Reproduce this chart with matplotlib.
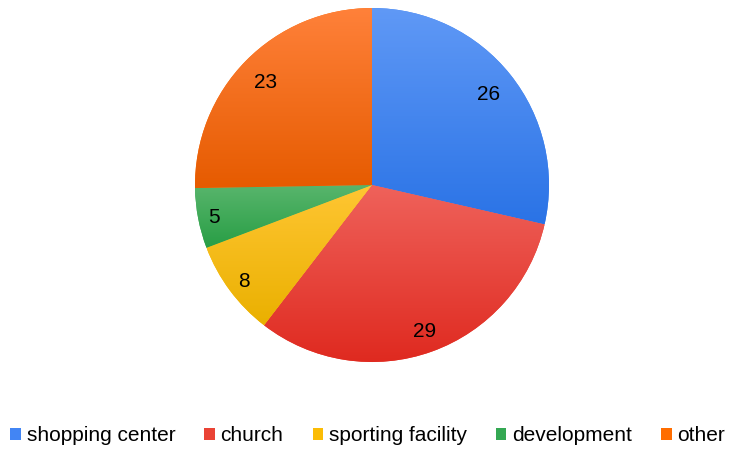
import matplotlib
matplotlib.use("Agg")
import matplotlib.pyplot as plt
import numpy as np
from matplotlib.colors import LinearSegmentedColormap
from matplotlib.patches import Patch

plt.rcParams['font.family'] = ['Liberation Sans', 'DejaVu Sans']

categories = ["shopping center", "church", "sporting facility", "development", "other"]
values = [26, 29, 8, 5, 23]
base_colors = ["#4285F4", "#EA4335", "#FBBC05", "#34A853", "#FF6D00"]
top_colors = ["#6099F6", "#EF625B", "#FFC633", "#58B56C", "#FF813A"]
bottom_colors = ["#2A73E6", "#DF291F", "#EAB000", "#289E45", "#E65B00"]
label_dist = [0.84, 0.87, 0.90, 0.91, 0.84]

fig = plt.figure(figsize=(7.4, 4.49), dpi=100)
ax = fig.add_axes([195 / 740, 87 / 449, 354 / 740, 354 / 449])

wedges, texts = ax.pie(
    values, colors=base_colors, startangle=90, counterclock=False,
    radius=1.0, wedgeprops=dict(linewidth=0))

for w, tc, bc, v, d in zip(wedges, top_colors, bottom_colors, values, label_dist):
    verts = w.get_path().vertices
    x0, x1 = verts[:, 0].min(), verts[:, 0].max()
    y0, y1 = verts[:, 1].min(), verts[:, 1].max()
    cmap = LinearSegmentedColormap.from_list("g", [bc, tc])
    grad = np.linspace(0, 1, 256).reshape(-1, 1)
    im = ax.imshow(grad, cmap=cmap, origin="lower", extent=(x0, x1, y0, y1),
                   aspect="auto", zorder=w.get_zorder() + 0.1, interpolation="bilinear")
    im.set_clip_path(w)
    ang = np.deg2rad((w.theta1 + w.theta2) / 2)
    ax.text(d * np.cos(ang), d * np.sin(ang) - 0.01, f"{v}", ha="center", va="center",
            fontsize=15, color="black", zorder=10)

ax.set_xlim(-1, 1)
ax.set_ylim(-1, 1)
ax.set_aspect("equal")
ax.axis("off")

handles = [Patch(facecolor=c, edgecolor="none") for c in base_colors]
fig.legend(handles, categories, loc="center", bbox_to_anchor=(0.497, 0.029), ncol=5,
           frameon=False, fontsize=15, handlelength=0.5, handleheight=0.5,
           handletextpad=0.28, columnspacing=1.4, borderaxespad=0, borderpad=0)

fig.savefig("out.png", dpi=100)
